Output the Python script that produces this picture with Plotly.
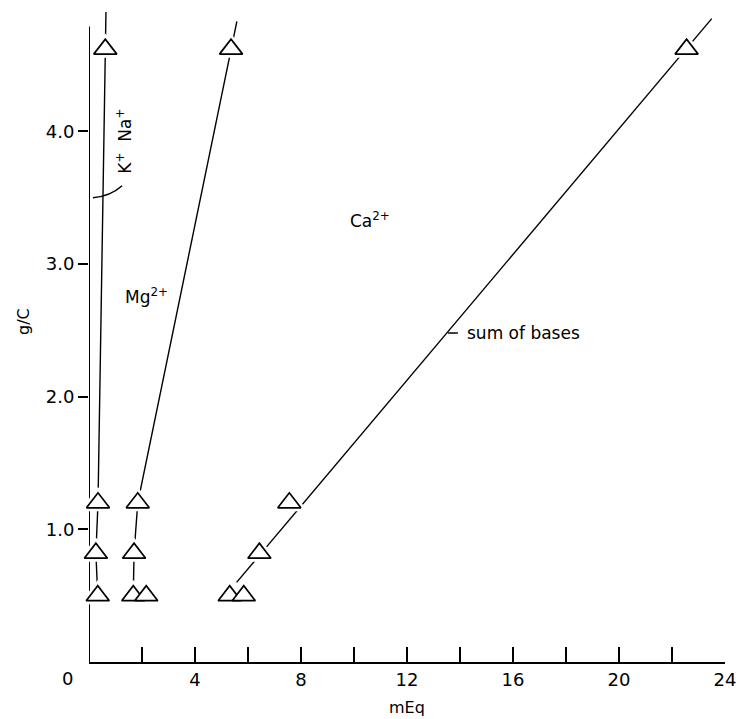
import plotly.graph_objects as go

# g/C levels of the samples and cumulative cation totals (mEq) at each level
gc_levels = [0.5, 0.82, 1.2, 4.62]
k_na_meq = [0.33, 0.26, 0.34, 0.615]
mg_meq = [1.67, 1.70, 1.84, 5.36]
sum_bases_meq = [5.31, 6.43, 7.56, 22.55]

# second sample at the lowest g/C level
replicate_gc = [0.5]
replicate_mg_meq = [2.16]
replicate_sum_meq = [5.84]

# guide lines drawn through the points, running on past the top sample
k_na_line_gc = gc_levels + [4.9]
k_na_line_meq = k_na_meq + [0.64]
mg_line_gc = gc_levels + [4.83]
mg_line_meq = mg_meq + [5.58]
sum_line_gc = [0.60, 4.85]
sum_line_meq = [5.57, 23.5]

# axis ticks (labelled every 4 mEq, plain tick marks in between)
x_tick_values = [4, 8, 12, 16, 20, 24]
x_tick_labels = ["4", "8", "12", "16", "20", "24"]
x_minor_step = 2
y_tick_values = [1, 2, 3, 4]
y_tick_labels = ["1.0", "2.0", "3.0", "4.0"]
y_axis_top = 4.79

FONT = "DejaVu Sans"

fig = go.Figure()

line_style = dict(color="black", width=1.4)
for xs, ys in [(k_na_line_meq, k_na_line_gc),
               (mg_line_meq, mg_line_gc),
               (sum_line_meq, sum_line_gc)]:
    fig.add_trace(go.Scatter(x=xs, y=ys, mode="lines", line=line_style,
                             hoverinfo="skip", showlegend=False))

pts_meq = k_na_meq + mg_meq + replicate_mg_meq + sum_bases_meq + replicate_sum_meq
pts_gc = gc_levels + gc_levels + replicate_gc + gc_levels + replicate_gc

# white halo so the lines break around each triangle
fig.add_trace(go.Scatter(
    x=pts_meq, y=pts_gc, mode="markers", cliponaxis=False, hoverinfo="skip",
    marker=dict(symbol="triangle-up", size=20, color="white",
                line=dict(color="white", width=7)),
    showlegend=False))
fig.add_trace(go.Scatter(
    x=pts_meq, y=pts_gc, mode="markers", cliponaxis=False,
    marker=dict(symbol="triangle-up", size=20, color="white",
                line=dict(color="black", width=1.7)),
    showlegend=False))

# y axis line sits under the markers
fig.add_shape(type="line", xref="x", yref="y", x0=0, x1=0, y0=0, y1=y_axis_top,
              line=dict(color="black", width=2), layer="below")

# curved leader for the K+ / Na+ label
fig.add_shape(type="path", xref="x", yref="y",
              path="M 0.15,3.50 Q 0.80,3.51 1.25,3.59",
              line=dict(color="black", width=1.5))
# leader for "sum of bases"
fig.add_shape(type="line", xref="x", yref="y", x0=13.55, x1=13.92, y0=2.48, y1=2.48,
              line=dict(color="black", width=1.5))

label_font = dict(family=FONT, size=17, color="black")
fig.add_annotation(x=1.32, y=3.93, xref="x", yref="y", text="K<sup>+</sup>  Na<sup>+</sup>",
                   textangle=-90, showarrow=False, font=label_font)
fig.add_annotation(x=1.28, y=2.76, xref="x", yref="y", text="Mg<sup>2+</sup>",
                   xanchor="left", showarrow=False, font=label_font)
fig.add_annotation(x=9.77, y=3.33, xref="x", yref="y", text="Ca<sup>2+</sup>",
                   xanchor="left", showarrow=False, font=label_font)
fig.add_annotation(x=14.2, y=2.48, xref="x", yref="y", text="sum of bases",
                   xanchor="left", showarrow=False, font=label_font)

# origin label and axis titles (placed in paper units)
fig.add_annotation(x=-22 / 636, y=-16 / 650, xref="paper", yref="paper", text="0",
                   xanchor="center", yanchor="middle", showarrow=False,
                   font=dict(family=FONT, size=18, color="black"))
fig.add_annotation(x=318 / 636, y=-45 / 650, xref="paper", yref="paper", text="mEq",
                   xanchor="center", yanchor="middle", showarrow=False,
                   font=dict(family=FONT, size=16, color="black"))
fig.add_annotation(x=-66 / 636, y=340 / 650, xref="paper", yref="paper", text="g/C",
                   xanchor="center", yanchor="middle", textangle=-90, showarrow=False,
                   font=dict(family=FONT, size=16, color="black"))

fig.update_layout(
    width=738, height=719,
    margin=dict(l=89, r=13, t=12, b=57, autoexpand=False),
    plot_bgcolor="white", paper_bgcolor="white",
    showlegend=False,
    font=dict(family=FONT, size=17, color="black"),
    xaxis=dict(range=[0, 24], tickvals=x_tick_values, ticktext=x_tick_labels,
               ticks="inside", ticklen=15, tickwidth=1.5, tickcolor="black",
               minor=dict(ticks="inside", ticklen=15, tickwidth=1.5, tickcolor="black",
                          tick0=0, dtick=x_minor_step, showgrid=False),
               showline=True, linewidth=2, linecolor="black",
               showgrid=False, zeroline=False, automargin=False,
               tickfont=dict(family=FONT, size=18, color="black")),
    yaxis=dict(range=[0, 4.9], tickvals=y_tick_values, ticktext=y_tick_labels,
               ticks="outside", ticklen=10, tickwidth=1.5, tickcolor="black",
               showline=False, showgrid=False, zeroline=False, automargin=False,
               tickfont=dict(family=FONT, size=18, color="black")),
    yaxis2=dict(range=[0, 4.9], overlaying="y", side="left", anchor="x",
                tickvals=y_tick_values, ticks="inside", ticklen=4, tickwidth=1.5,
                tickcolor="black", showticklabels=False, showline=False,
                showgrid=False, zeroline=False, automargin=False),
)

fig.write_html("out.html")
